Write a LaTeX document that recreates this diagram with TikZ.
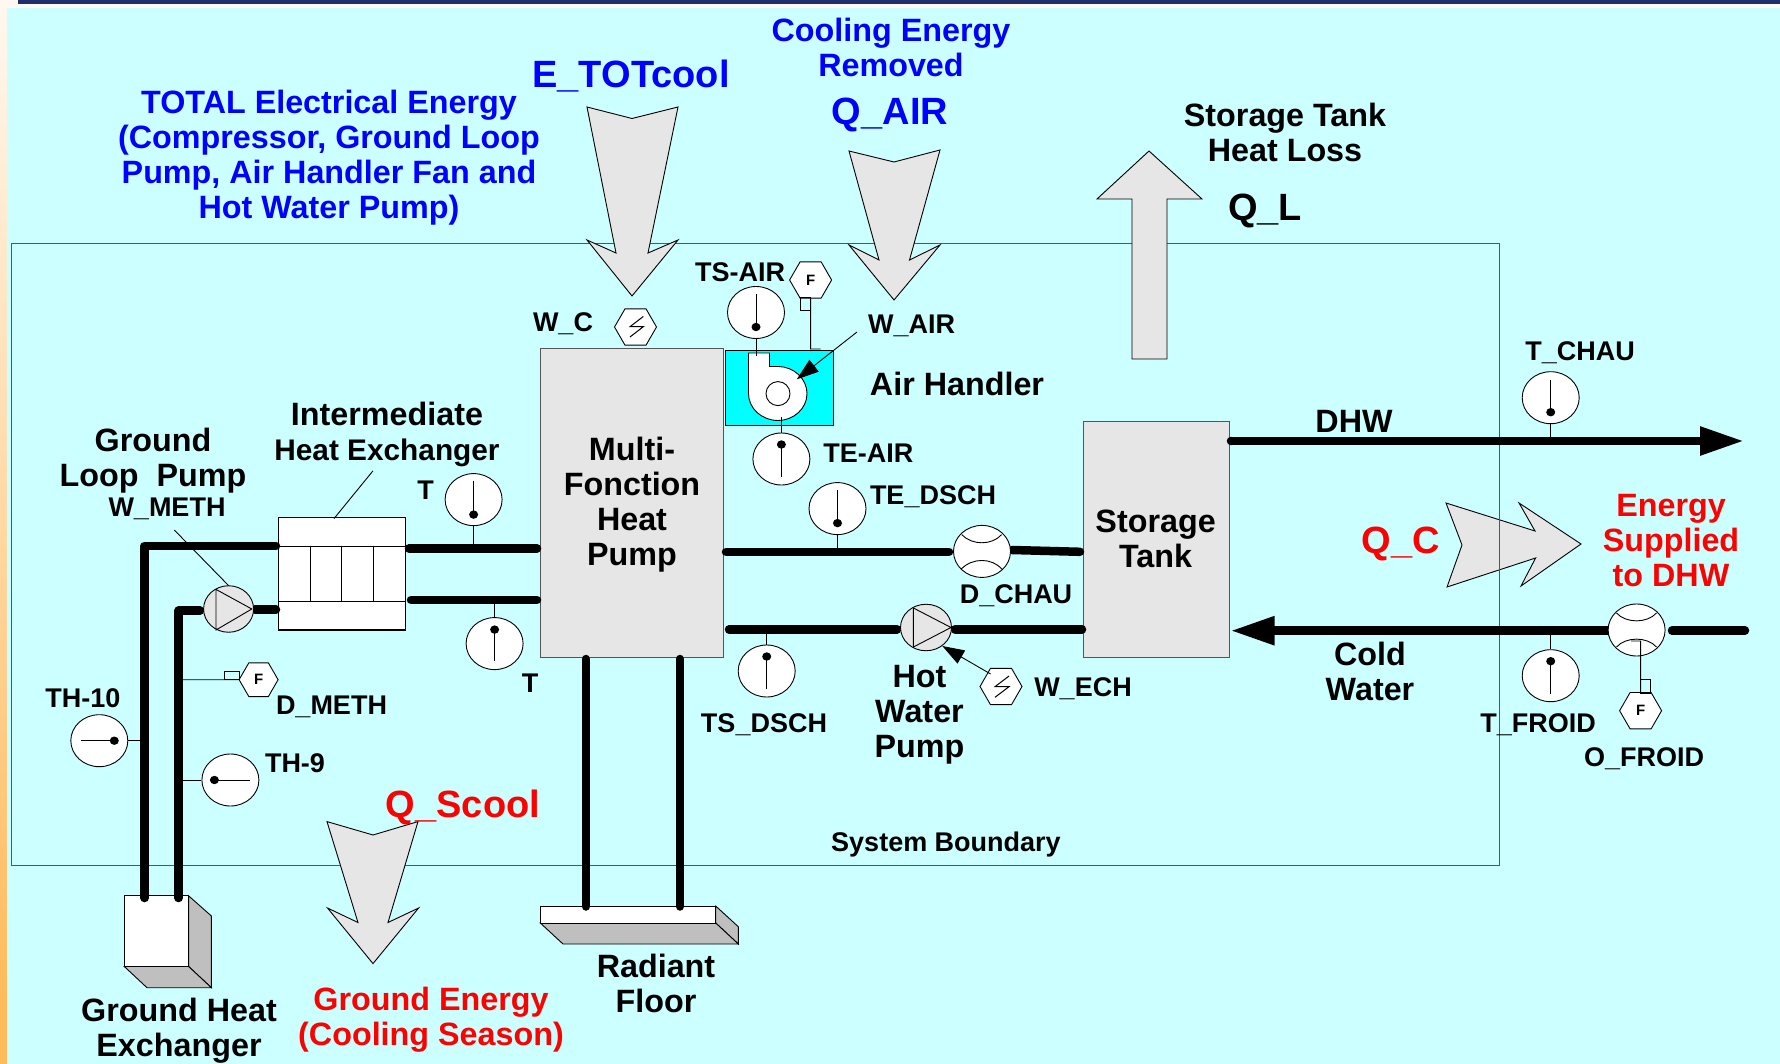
\documentclass[tikz,border=0pt]{standalone}
\usepackage{fontspec}
\setmainfont{Liberation Sans}
\usetikzlibrary{shapes.geometric,arrows.meta,calc}
\definecolor{bgcyan}{HTML}{CCFFFF}
\definecolor{boxgray}{HTML}{E6E6E6}
\definecolor{sidegray}{HTML}{BFBFBF}
\definecolor{navy}{HTML}{1F2F6B}
\definecolor{edgegray}{HTML}{555555}
\definecolor{ahucyan}{HTML}{00FFFF}
\definecolor{cream}{HTML}{FFF8F0}
\definecolor{stripor}{HTML}{FFBB5C}
\tikzset{
  txt/.style={inner sep=0pt,align=center,font=\bfseries\fontsize{32.3}{35}\selectfont},
  small/.style={txt,font=\bfseries\fontsize{27}{30}\selectfont},
  big/.style={txt,font=\bfseries\fontsize{38}{41}\selectfont},
  bluet/.style={text=blue},
  redt/.style={text=red},
  pipe/.style={line width=8.5pt,line cap=round,line join=round,black},
  thin line/.style={line width=0.9pt,black},
  bigarrow/.style={draw=black,line width=0.9pt,fill=boxgray},
  graybox/.style={draw=edgegray,line width=0.9pt,fill=boxgray,inner sep=0pt},
  gauge/.style={ellipse,draw=black,line width=0.9pt,fill=white,minimum width=57pt,minimum height=52pt,inner sep=0pt},
  pumpbody/.style={ellipse,draw=black,line width=0.9pt,fill=boxgray,inner sep=0pt},
  hexa/.style={regular polygon,regular polygon sides=6,draw=black,line width=0.9pt,fill=white,minimum size=42pt,inner sep=0pt,font=\bfseries\fontsize{15}{15}\selectfont},
  tip/.style={-{Triangle[length=22pt,width=15pt]}},
}
% thermometer: name, x, y, dot offset dx, dy (the needle runs opposite the dot)
\newcommand{\gaugeat}[5]{%
  \node[gauge] (#1) at (#2,#3) {};
  \draw[line width=1pt] ($(#2,#3)+(#4,#5)$) -- ($(#2,#3)+(-1.25*#4,-1.25*#5)$);
  \fill ($(#2,#3)+(#4,#5)$) ellipse [x radius=4.5pt,y radius=4.2pt];
}
\begin{document}
\begin{tikzpicture}[x=1pt,y=-1pt]
\useasboundingbox (0,0) rectangle (1780,1064);
% page background
\fill[cream] (0,0) rectangle (1780,1064);
\shade[top color=cream,bottom color=stripor] (0,0) rectangle (7,1000);
\fill[stripor] (0,999.5) rectangle (7,1064);
\fill[bgcyan] (7,8) rectangle (1780,1064);
\fill[navy] (18,0.5) rectangle (1780,4);

% energy arrow that the boundary line crosses visibly
\draw[bigarrow] (1446,503) -- (1535,531) -- (1519,503) -- (1581,544) -- (1521,586) -- (1535.6,558) -- (1447,587) -- (1462,545) -- cycle;

% system boundary
\draw[line width=1pt,edgegray] (11,243.6) rectangle (1499.6,865);

% large energy arrows on top of the boundary
\draw[bigarrow] (587,107) -- (632,118.5) -- (678,107) -- (648,253) -- (678,240) -- (632,296) -- (587,240) -- (616,253) -- cycle;
\draw[bigarrow] (849,151) -- (894,162) -- (940,150) -- (909.5,260) -- (940,245) -- (894,300) -- (849,245) -- (879,260) -- cycle;
\draw[bigarrow] (1149,151) -- (1202,199) -- (1167,199) -- (1167,359) -- (1132,359) -- (1132,199) -- (1097,199) -- cycle;
\draw[bigarrow] (327,821.6) -- (373,835) -- (418,821.6) -- (388,922.5) -- (418.6,908) -- (373,963.6) -- (327.5,908) -- (358,922.5) -- cycle;

% ground heat exchanger
\coordinate (gA) at (124.3,895.8);
\coordinate (gB) at (188.6,895.8);
\coordinate (gC) at (188.6,966.5);
\coordinate (gD) at (124.3,966.5);
\coordinate (gE) at (211.4,916);
\coordinate (gF) at (211.4,987.7);
\coordinate (gG) at (147,987.7);
\fill[sidegray,draw=black,line width=0.9pt] (gB) -- (gE) -- (gF) -- (gC) -- cycle;
\fill[sidegray,draw=black,line width=0.9pt] (gD) -- (gC) -- (gF) -- (gG) -- cycle;
\fill[white,draw=black,line width=0.9pt] (gA) rectangle (gC);

% radiant floor
\coordinate (fA) at (540.3,906);
\coordinate (fB) at (715.7,906);
\coordinate (fC) at (715.7,923);
\coordinate (fD) at (540.3,923);
\coordinate (fE) at (738.3,926.7);
\coordinate (fF) at (738.3,944);
\coordinate (fG) at (563,944);
\fill[sidegray,draw=black,line width=0.9pt] (fB) -- (fE) -- (fF) -- (fC) -- cycle;
\fill[sidegray,draw=black,line width=0.9pt] (fD) -- (fC) -- (fF) -- (fG) -- cycle;
\fill[white,draw=black,line width=0.9pt] (fA) rectangle (fC);

% main boxes
\node[graybox,minimum width=182.5pt,minimum height=309pt] (hp) at (631.8,502.5) {};
\node[graybox,minimum width=145.5pt,minimum height=236pt] (tank) at (1156.2,539.3) {};
\node[draw=black,line width=0.9pt,fill=ahucyan,inner sep=0pt,minimum width=108pt,minimum height=75pt] (ahu) at (779.6,387.5) {};
\node[draw=black,line width=1.2pt,fill=white,inner sep=0pt,minimum width=126.8pt,minimum height=112.6pt] (hx) at (342,573.7) {};
\draw[line width=1pt] (278.6,546) -- (405.4,546) (278.6,601.3) -- (405.4,601.3)
  (310.7,546) -- (310.7,601.3) (341.8,546) -- (341.8,601.3) (373.2,546) -- (373.2,601.3);

% fan
\draw[line width=0.9pt,fill=white] (748.5,353) -- (769.5,353) -- (769.5,366.5) -- (778,366.5)
  .. controls (793.5,366.5) and (807,378.5) .. (807,393.6)
  .. controls (807,408.6) and (793.5,420.5) .. (778,420.5)
  .. controls (762,420.5) and (748.5,408.6) .. (748.5,393.6) -- cycle;
\node[circle,draw=black,line width=0.9pt,minimum size=24pt,inner sep=0pt] (fanhub) at (778,393.6) {};

% pipes
\coordinate (gl1) at (144.6,898);
\coordinate (gl1c) at (144.6,546);
\coordinate (gl2) at (178.6,898);
\coordinate (gl2c) at (178.6,610.6);
\coordinate (hxl1) at (276,546);
\coordinate (pmpin) at (200,610.6);
\coordinate (pmpout) at (255,609.7);
\coordinate (hxl2) at (276,609.7);
\coordinate (hxr1) at (409,548.3);
\coordinate (hpl1) at (537,548.3);
\coordinate (hxr2) at (411,600);
\coordinate (hpl2) at (537,600);
\coordinate (hpb1) at (586,659);
\coordinate (fl1) at (586,906.5);
\coordinate (hpb2) at (680,659);
\coordinate (fl2) at (680,906.5);
\coordinate (hpr1) at (726,551.8);
\coordinate (dcin) at (949,551.8);
\coordinate (dcout) at (1012,550);
\coordinate (tkl1) at (1080,551.8);
\coordinate (hpr2) at (729,629.3);
\coordinate (hwin) at (897,629.3);
\coordinate (hwout) at (955,629.3);
\coordinate (tkl2) at (1082,629.3);
\coordinate (dhws) at (1231,441);
\coordinate (dhwe) at (1744,441);
\coordinate (cws) at (1609.5,630.7);
\coordinate (cwe) at (1230.5,630.7);
\coordinate (cw2s) at (1745,630.7);
\coordinate (cw2e) at (1672,630.7);
\draw[pipe] (gl1) -- (gl1c) -- (hxl1);
\draw[pipe] (gl2) -- (gl2c) -- (pmpin);
\draw[pipe] (pmpout) -- (hxl2);
\draw[pipe] (hxr1) -- (hpl1);
\draw[pipe] (hxr2) -- (hpl2);
\draw[pipe] (hpb1) -- (fl1);
\draw[pipe] (hpb2) -- (fl2);
\draw[pipe] (hpr1) -- (dcin);
\draw[pipe] (dcout) -- (tkl1);
\draw[pipe] (hpr2) -- (hwin);
\draw[pipe] (hwout) -- (tkl2);
\draw[pipe] (cw2s) -- (cw2e);
\draw[line width=8.5pt,-{Triangle[length=44pt,width=27pt]},line cap=butt] (dhws) -- (dhwe);
\draw[line width=8.5pt,-{Triangle[length=44pt,width=27pt]},line cap=butt] (cws) -- (cwe);
\fill (dhws) circle (4.25pt);

% thermometers
\gaugeat{gT1}{473.6}{499.6}{0}{15}
\gaugeat{gT2}{494.6}{643.6}{0}{-14}
\gaugeat{gTH10}{99.3}{740.7}{15}{0}
\gaugeat{gTH9}{230.4}{780}{-16}{0}
\gaugeat{gTSA}{756}{312.5}{0}{14.5}
\gaugeat{gTEA}{781.4}{459}{0}{-14.5}
\gaugeat{gTED}{837.5}{508.6}{0}{14.5}
\gaugeat{gTSD}{766.7}{671}{0}{-14.5}
\gaugeat{gTC}{1550.7}{397.7}{0}{14.5}
\gaugeat{gTF}{1550.7}{675.7}{0}{-14.5}
\coordinate (s1) at (473.6,548.3);
\coordinate (s2) at (494.6,600);
\coordinate (s3) at (144.6,740.7);
\coordinate (s4) at (178.6,780);
\coordinate (s5) at (756,356);
\coordinate (s6) at (781.4,417);
\coordinate (s7) at (837.5,551.8);
\coordinate (s8) at (766.7,629.3);
\coordinate (s9) at (1550.7,441);
\coordinate (s10) at (1550.7,630.7);
\draw[thin line] (gT1.south) -- (s1);
\draw[thin line] (gT2.north) -- (s2);
\draw[thin line] (gTH10.east) -- (s3);
\draw[thin line] (gTH9.west) -- (s4);
\draw[thin line] (gTSA.south) -- (s5);
\draw[thin line] (gTEA.north) -- (s6);
\draw[thin line] (gTED.south) -- (s7);
\draw[thin line] (gTSD.north) -- (s8);
\draw[thin line] (gTC.south) -- (s9);
\draw[thin line] (gTF.north) -- (s10);

% flow meters
\node[gauge] (dchau) at (982,551.4) {};
\draw[line width=0.9pt] (961.7,534.6) .. controls (972,545.5) and (992,545.5) .. (1001.6,534.6);
\draw[line width=0.9pt] (961,569.3) .. controls (972,557.5) and (992,557.5) .. (1002,569.3);
\node[gauge] (ofm) at (1636.6,630) {};
\draw[line width=0.9pt] (1616.5,613) .. controls (1626,623.5) and (1647,623.5) .. (1656.5,613);
\draw[line width=0.9pt] (1616.5,647) .. controls (1626,636.5) and (1647,636.5) .. (1656.5,647);

% pumps
\node[pumpbody,minimum width=51pt,minimum height=46.5pt] (hwp) at (926,627.5) {};
\draw[line width=0.9pt] (913.4,608) -- (951,627.5) -- (913.4,647) -- cycle;
\node[pumpbody,minimum width=50pt,minimum height=46.5pt] (glp) at (228.6,609) {};
\draw[line width=0.9pt] (216,589.4) -- (251.8,609) -- (216,630) -- cycle;

% hexagonal instruments
\node[hexa] (hF1) at (810.6,280) {F};
\draw[line width=0.9pt] (800.7,297) rectangle (810.6,310.7);
\coordinate (ahutop) at (810.6,349);
\coordinate (ahutop2) at (820.5,349);
\draw[thin line] (hF1.south) -- (ahutop) -- (ahutop2);
\node[hexa] (hWC) at (635.5,327) {};
\draw[line width=1pt] (643.3,316.5) -- (630,326.7) -- (643.3,326.7) -- (630,337);
\node[hexa] (hWE) at (1001,686.5) {};
\draw[line width=1pt] (1009,676) -- (995,686.7) -- (1009,686.7) -- (995,697.3);
\node[hexa,minimum size=39pt] (hDM) at (258.6,679.7) {F};
\draw[line width=0.9pt] (224.3,671) rectangle (239.3,679.7);
\coordinate (dmtap) at (183,679.7);
\draw[thin line] (dmtap) -- (hDM.west);
\node[hexa] (hOF) at (1640.6,710.7) {F};
\draw[line width=0.9pt] (1640.6,679.3) rectangle (1650,693.3);
\coordinate (oft) at (1640.6,641);
\coordinate (oft2) at (1631,641);
\draw[thin line] (oft2) -- (oft) -- (hOF.north);

% leaders
\coordinate (lhx) at (373,470.8);
\coordinate (lhxe) at (334,518.6);
\coordinate (lwm) at (174.3,530);
\coordinate (lwme) at (228.6,585.6);
\coordinate (wair) at (857,332);
\coordinate (waire) at (796.8,379.3);
\coordinate (wech) at (990.6,674);
\coordinate (wechE) at (942.3,646);
\draw[thin line] (lhx) -- (lhxe);
\draw[thin line] (lwm) -- (lwme);
\draw[thin line,tip] (wair) -- (waire);
\draw[thin line,tip] (wech) -- (wechE);

% texts
\node[txt,bluet] (tTotal) at (329,157.5) {TOTAL Electrical Energy\\(Compressor, Ground Loop\\Pump, Air Handler Fan and\\Hot Water Pump)};
\node[big,bluet] (tEtot) at (631,76) {E\_TOTcool};
\node[txt,bluet] (tCool) at (891,47.5) {Cooling Energy\\Removed};
\node[big,bluet] (tQair) at (890,114.5) {Q\_AIR};
\node[txt] (tLoss) at (1285,132) {Storage Tank\\Heat Loss};
\node[big] (tQL) at (1265,210.5) {Q\_L};
\node[small] (tWC) at (563,324) {W\_C};
\node[small] (tTSA) at (740,272.5) {TS-AIR};
\node[small] (tWA) at (911.6,326) {W\_AIR};
\node[txt] (tAH) at (957,384) {Air Handler};
\node[small] (tTC) at (1580,353) {T\_CHAU};
\node[txt] (tDHW) at (1354,421) {DHW};
\node[txt] (tHX) at (387,434) {Intermediate\\{\fontsize{29.8}{35}\selectfont Heat Exchanger}};
\node[txt] (tGLP) at (153,460.5) {Ground\\Loop\ \ Pump};
\node[small] (tWM) at (167,509) {W\_METH};
\node[small] (tT1) at (425.7,490) {T};
\node[small] (tT2) at (530,683.4) {T};
\node[txt] (tHP) at (632,504.5) {Multi-\\Fonction\\Heat\\Pump};
\node[small] (tTEA) at (868.4,453) {TE-AIR};
\node[small] (tTED) at (933,497) {TE\_DSCH};
\node[small] (tDC) at (1016,595.5) {D\_CHAU};
\node[txt] (tST) at (1155.6,539) {Storage\\Tank};
\node[big,redt] (tQC) at (1401,544) {Q\_C};
\node[txt,redt] (tES) at (1671,540.5) {Energy\\Supplied\\to DHW};
\node[txt] (tCW) at (1370,671.5) {Cold\\Water};
\node[small] (tTF) at (1538,725) {T\_FROID};
\node[small] (tOF) at (1644,759) {O\_FROID};
\node[small] (tWE) at (1083,689) {W\_ECH};
\node[txt] (tHWP) at (919.5,714.5) {Hot\\Water\\Pump};
\node[small] (tTSD) at (764,725) {TS\_DSCH};
\node[small] (tDM) at (331.5,707) {D\_METH};
\node[small] (tTH10) at (83,698) {TH-10};
\node[small] (tTH9) at (295,763) {TH-9};
\node[big,redt] (tQS) at (463,807) {Q\_Scool};
\node[small] (tSB) at (946,845) {System Boundary};
\node[txt,redt] (tGE) at (431,1020) {Ground Energy\\(Cooling Season)};
\node[txt] (tRF) at (656,983.5) {Radiant\\Floor};
\node[txt] (tGH) at (179,1031) {Ground Heat\\Exchanger};
\end{tikzpicture}
\end{document}
